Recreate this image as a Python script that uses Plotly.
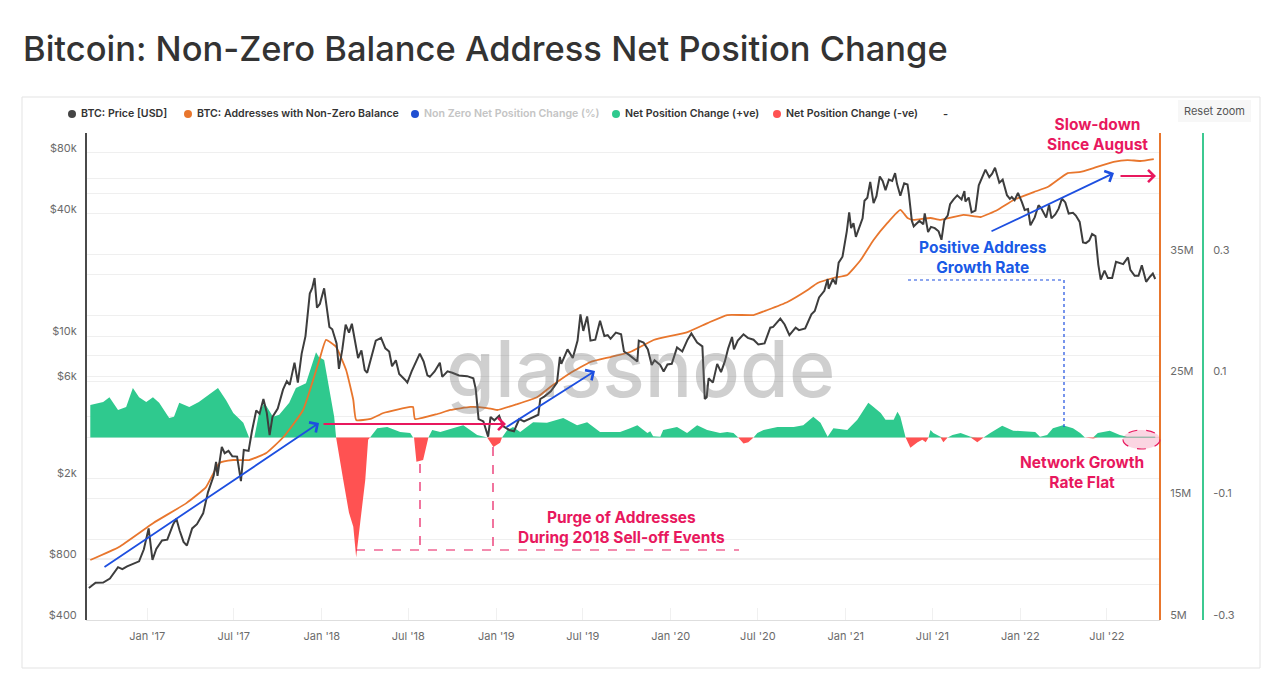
import math
import plotly.graph_objects as go

W, H = 1280, 680


def fx(p):
    return p / W


def fy(p):
    return 1 - p / H


# ---------------- data ----------------
price_dates = [
    "2016-09-01", "2016-09-15", "2016-10-01", "2016-10-15", "2016-11-01", "2016-11-10", "2016-11-20",
    "2016-12-01", "2016-12-15", "2016-12-25", "2017-01-04", "2017-01-12", "2017-01-20", "2017-02-01",
    "2017-02-12", "2017-02-24", "2017-03-03", "2017-03-10", "2017-03-18", "2017-03-25", "2017-04-05",
    "2017-04-15", "2017-04-28", "2017-05-08", "2017-05-20", "2017-05-25", "2017-05-28", "2017-06-06",
    "2017-06-12", "2017-06-20", "2017-06-28", "2017-07-08", "2017-07-16", "2017-07-22", "2017-08-01",
    "2017-08-08", "2017-08-17", "2017-08-24", "2017-09-01", "2017-09-08", "2017-09-14", "2017-09-20",
    "2017-10-01", "2017-10-12", "2017-10-20", "2017-10-26", "2017-11-05", "2017-11-12", "2017-11-20",
    "2017-11-28", "2017-12-07", "2017-12-12", "2017-12-17", "2017-12-22", "2017-12-28", "2018-01-06",
    "2018-01-12", "2018-01-17", "2018-01-23", "2018-02-01", "2018-02-06", "2018-02-13", "2018-02-20",
    "2018-02-27", "2018-03-05", "2018-03-12", "2018-03-18", "2018-03-25", "2018-04-01", "2018-04-06",
    "2018-04-15", "2018-04-24", "2018-05-05", "2018-05-14", "2018-05-22", "2018-05-28", "2018-06-05",
    "2018-06-12", "2018-06-24", "2018-06-29", "2018-07-08", "2018-07-17", "2018-07-25", "2018-08-02",
    "2018-08-10", "2018-08-15", "2018-08-25", "2018-09-05", "2018-09-10", "2018-09-21", "2018-10-01",
    "2018-10-15", "2018-11-01", "2018-11-14", "2018-11-19", "2018-11-25", "2018-12-05", "2018-12-15",
    "2018-12-20", "2018-12-28", "2019-01-07", "2019-01-15", "2019-01-28", "2019-02-07", "2019-02-18",
    "2019-02-28", "2019-03-15", "2019-03-30", "2019-04-03", "2019-04-12", "2019-04-25", "2019-05-08",
    "2019-05-14", "2019-05-17", "2019-05-30", "2019-06-10", "2019-06-20", "2019-06-26", "2019-07-02",
    "2019-07-10", "2019-07-17", "2019-07-27", "2019-08-06", "2019-08-15", "2019-08-22", "2019-08-28",
    "2019-09-08", "2019-09-19", "2019-09-25", "2019-10-05", "2019-10-23", "2019-10-26", "2019-11-05",
    "2019-11-14", "2019-11-22", "2019-11-28", "2019-12-10", "2019-12-17", "2019-12-25", "2020-01-03",
    "2020-01-14", "2020-01-25", "2020-02-05", "2020-02-13", "2020-02-25", "2020-03-07", "2020-03-12",
    "2020-03-16", "2020-03-20", "2020-03-29", "2020-04-07", "2020-04-15", "2020-04-23", "2020-04-30",
    "2020-05-08", "2020-05-12", "2020-05-20", "2020-06-01", "2020-06-10", "2020-06-22", "2020-07-02",
    "2020-07-15", "2020-07-27", "2020-08-02", "2020-08-17", "2020-08-26", "2020-09-05", "2020-09-18",
    "2020-09-25", "2020-10-08", "2020-10-21", "2020-10-28", "2020-11-06", "2020-11-17", "2020-11-24",
    "2020-11-26", "2020-12-05", "2020-12-11", "2020-12-17", "2020-12-25", "2021-01-03", "2021-01-08",
    "2021-01-12", "2021-01-17", "2021-01-22", "2021-01-29", "2021-02-05", "2021-02-09", "2021-02-15",
    "2021-02-21", "2021-02-28", "2021-03-06", "2021-03-13", "2021-03-19", "2021-03-25", "2021-04-01",
    "2021-04-08", "2021-04-14", "2021-04-18", "2021-04-25", "2021-05-03", "2021-05-10", "2021-05-13",
    "2021-05-19", "2021-05-23", "2021-05-28", "2021-06-04", "2021-06-12", "2021-06-15", "2021-06-22",
    "2021-06-28", "2021-07-06", "2021-07-14", "2021-07-20", "2021-07-26", "2021-08-02", "2021-08-07",
    "2021-08-14", "2021-08-22", "2021-08-31", "2021-09-06", "2021-09-08", "2021-09-15", "2021-09-21",
    "2021-09-29", "2021-10-06", "2021-10-15", "2021-10-20", "2021-10-28", "2021-11-03", "2021-11-09",
    "2021-11-18", "2021-11-25", "2021-12-04", "2021-12-10", "2021-12-14", "2021-12-20", "2021-12-27",
    "2022-01-04", "2022-01-10", "2022-01-17", "2022-01-22", "2022-01-31", "2022-02-08", "2022-02-14",
    "2022-02-24", "2022-03-02", "2022-03-07", "2022-03-15", "2022-03-22", "2022-03-29", "2022-04-05",
    "2022-04-12", "2022-04-21", "2022-04-27", "2022-05-05", "2022-05-12", "2022-05-18", "2022-05-25",
    "2022-05-31", "2022-06-07", "2022-06-13", "2022-06-18", "2022-06-26", "2022-07-03", "2022-07-12",
    "2022-07-20", "2022-07-27", "2022-08-04", "2022-08-14", "2022-08-19", "2022-08-28", "2022-09-05",
    "2022-09-12", "2022-09-19", "2022-09-21", "2022-09-29", "2022-10-05", "2022-10-10",
]
price_usd = [
    575, 610, 612, 640, 728, 712, 735,
    752, 778, 892, 1130, 790, 895, 985,
    995, 1180, 1260, 1100, 970, 930, 1130,
    1185, 1340, 1700, 2050, 2400, 2050, 2850,
    2650, 2720, 2560, 2550, 1930, 2750, 2720,
    3400, 4300, 4150, 4900, 4200, 3250, 4000,
    4400, 5450, 6000, 5750, 7400, 5900, 8200,
    10000, 16200, 17200, 19300, 13800, 14400, 17200,
    13400, 11100, 10800, 9200, 6900, 8600, 11400,
    10400, 11500, 9200, 7800, 8500, 6800, 6600,
    8000, 9500, 9800, 8700, 8400, 7100, 7600,
    6500, 6100, 5900, 6700, 7400, 8200, 7500,
    6400, 6300, 6700, 7400, 6300, 6700, 6600,
    6400, 6350, 6200, 5500, 3900, 3800, 3200,
    4000, 3850, 4050, 3600, 3450, 3400, 3900,
    3800, 3950, 4100, 4900, 5050, 5350, 5900,
    7900, 7300, 8600, 7800, 9500, 12800, 10600,
    12500, 9500, 9600, 11900, 10000, 10100, 9700,
    10400, 10200, 8400, 8100, 7500, 9500, 9300,
    8600, 7200, 7600, 7200, 6700, 7250, 7300,
    8800, 8400, 9600, 10300, 9300, 8900, 4900,
    5000, 6200, 5900, 7300, 6650, 7500, 8700,
    9900, 8600, 9500, 10200, 9800, 9600, 9100,
    9200, 11000, 11100, 12200, 11400, 10100, 11000,
    10700, 10900, 12800, 13300, 15500, 16700, 19100,
    17100, 19100, 18000, 23000, 24600, 32800, 40700,
    34000, 36000, 30800, 34300, 38000, 46400, 48000,
    57500, 45200, 48900, 61100, 58100, 52300, 58900,
    58000, 63500, 56200, 49100, 56600, 55800, 49700,
    37000, 34700, 35600, 36900, 35500, 40200, 32500,
    34500, 34000, 32800, 29800, 37200, 39200, 44600,
    47000, 49300, 47100, 51800, 46000, 48100, 40700,
    41500, 55300, 61500, 66000, 60600, 63000, 67500,
    56900, 58900, 49400, 47400, 48400, 46700, 50700,
    45800, 41800, 42200, 35100, 38400, 44100, 42500,
    38300, 44400, 38000, 39700, 42400, 47500, 45500,
    40100, 40500, 39200, 36500, 28900, 28700, 29500,
    31800, 31100, 22500, 19000, 21000, 19300, 19300,
    23200, 22900, 22600, 24400, 21200, 19800, 19800,
    22300, 19400, 18500, 19600, 20300, 19100,
]

addr_dates = [
    "2016-09-04", "2016-11-03", "2017-01-14", "2017-03-24", "2017-05-04", "2017-06-01", "2017-06-30",
    "2017-08-02", "2017-09-07", "2017-10-13", "2017-11-23", "2017-12-27", "2018-01-10", "2018-01-31",
    "2018-02-21", "2018-03-08", "2018-03-14", "2018-04-13", "2018-05-10", "2018-07-05", "2018-07-11",
    "2018-07-15", "2018-08-31", "2018-09-27", "2018-11-08", "2018-12-13", "2019-01-03", "2019-02-14",
    "2019-03-28", "2019-04-24", "2019-06-05", "2019-07-17", "2019-08-28", "2019-10-08", "2019-11-26",
    "2020-02-05", "2020-03-18", "2020-04-28", "2020-06-22", "2020-07-21", "2020-09-01", "2020-10-13",
    "2020-11-03", "2020-12-06", "2021-01-04", "2021-02-01", "2021-02-28", "2021-03-29", "2021-04-25",
    "2021-05-10", "2021-05-22", "2021-06-27", "2021-07-18", "2021-09-04", "2021-10-10", "2021-11-14",
    "2021-12-18", "2022-01-29", "2022-02-27", "2022-04-10", "2022-05-07", "2022-06-03", "2022-07-15",
    "2022-08-13", "2022-09-09", "2022-10-07",
]
addr_millions = [
    9.93, 11.0, 12.97, 14.6, 15.92, 17.9, 18.14,
    18.14, 18.72, 20.03, 22.25, 26.36, 28.0, 27.42,
    25.53, 23.07, 21.43, 21.51, 22.0, 22.5, 22.5,
    21.51, 21.92, 22.25, 22.5, 22.41, 22.25, 22.74,
    23.32, 24.14, 25.29, 26.19, 26.6, 27.01, 28.0,
    28.65, 29.39, 30.05, 30.05, 30.46, 31.12, 32.1,
    32.68, 33.09, 33.34, 34.57, 36.21, 37.61, 38.68,
    38.02, 37.86, 38.02, 37.86, 38.27, 38.1, 38.68,
    39.5, 40.15, 40.56, 41.71, 41.8, 42.12, 42.62,
    42.78, 42.7, 42.86,
]

net_dates = [
    "2016-09-04", "2016-10-01", "2016-10-14", "2016-11-01", "2016-11-18", "2016-12-02", "2016-12-15",
    "2016-12-30", "2017-01-13", "2017-01-26", "2017-02-16", "2017-02-26", "2017-03-09", "2017-03-30",
    "2017-04-19", "2017-05-19", "2017-05-29", "2017-06-15", "2017-06-30", "2017-07-21", "2017-08-02",
    "2017-08-13", "2017-08-23", "2017-09-03", "2017-09-21", "2017-10-04", "2017-10-25", "2017-11-08",
    "2017-11-29", "2017-12-20", "2017-12-26", "2018-01-06", "2018-01-16", "2018-01-27", "2018-01-31",
    "2018-02-15", "2018-02-27", "2018-03-08", "2018-03-14", "2018-03-23", "2018-04-02", "2018-04-08",
    "2018-04-12", "2018-04-27", "2018-05-18", "2018-06-14", "2018-07-05", "2018-07-11", "2018-07-13",
    "2018-07-18", "2018-08-01", "2018-08-12", "2018-08-20", "2018-09-06", "2018-10-11", "2018-10-24",
    "2018-11-22", "2018-12-09", "2018-12-13", "2018-12-26", "2019-01-09", "2019-01-13", "2019-01-24",
    "2019-02-05", "2019-02-20", "2019-03-19", "2019-04-17", "2019-05-21", "2019-06-19", "2019-07-10",
    "2019-08-06", "2019-09-02", "2019-09-17", "2019-10-08", "2019-10-23", "2019-11-13", "2019-11-19",
    "2019-11-25", "2019-12-10", "2019-12-16", "2020-01-14", "2020-02-04", "2020-02-25", "2020-03-17",
    "2020-04-13", "2020-04-28", "2020-05-11", "2020-05-21", "2020-06-01", "2020-06-11", "2020-06-22",
    "2020-06-30", "2020-07-13", "2020-08-11", "2020-09-14", "2020-10-04", "2020-10-25", "2020-11-09",
    "2020-11-24", "2020-12-06", "2021-01-04", "2021-01-25", "2021-02-17", "2021-02-28", "2021-03-15",
    "2021-03-25", "2021-04-11", "2021-04-19", "2021-04-25", "2021-05-06", "2021-05-16", "2021-05-31",
    "2021-06-10", "2021-06-17", "2021-06-23", "2021-06-27", "2021-07-03", "2021-07-18", "2021-07-24",
    "2021-08-02", "2021-08-12", "2021-08-29", "2021-09-19", "2021-10-03", "2021-10-16", "2021-10-30",
    "2021-11-24", "2021-12-17", "2022-01-15", "2022-02-01", "2022-02-11", "2022-02-26", "2022-03-10",
    "2022-03-31", "2022-04-21", "2022-05-06", "2022-05-16", "2022-06-02", "2022-06-12", "2022-07-07",
    "2022-07-28", "2022-08-12", "2022-08-25", "2022-10-10",
]
net_change = [
    0.053, 0.058, 0.066, 0.045, 0.050, 0.081, 0.066,
    0.058, 0.066, 0.057, 0.032, 0.034, 0.057, 0.050,
    0.058, 0.075, 0.081, 0.061, 0.040, 0.024, 0.0,
    0.0, 0.040, 0.057, 0.034, 0.037, 0.057, 0.081,
    0.089, 0.140, 0.132, 0.127, 0.083, 0.034, 0.0,
    -0.070, -0.124, -0.147, -0.197, -0.136, -0.070, -0.004,
    0.0, 0.015, 0.017, 0.009, 0.007, 0.0, 0.0,
    -0.040, -0.037, 0.0, 0.012, 0.009, 0.017, 0.020,
    0.004, 0.0, 0.0, -0.016, -0.009, 0.0, 0.012,
    0.017, 0.009, 0.025, 0.024, 0.032, 0.020, 0.025,
    0.009, 0.009, 0.009, 0.015, 0.020, 0.007, 0.010,
    0.002, 0.001, 0.012, 0.017, 0.007, 0.020, 0.012,
    0.007, 0.009, 0.007, 0.0, -0.010, -0.008, 0.0,
    0.007, 0.012, 0.017, 0.017, 0.020, 0.034, 0.024,
    0.001, 0.015, 0.012, 0.029, 0.057, 0.050, 0.040,
    0.029, 0.029, 0.042, 0.034, 0.0, -0.017, -0.008,
    -0.004, -0.008, 0.0, 0.012, 0.007, 0.001, -0.008,
    0.0, 0.004, 0.007, 0.001, -0.008, 0.0, 0.007,
    0.019, 0.011, 0.009, 0.009, 0.001, 0.004, 0.015,
    0.020, 0.015, 0.007, 0.0, -0.002, 0.007, 0.011,
    0.004, 0.001, 0.001, 0.001,
]

x_ticks = ["2017-01-01", "2017-07-01", "2018-01-01", "2018-07-01", "2019-01-01", "2019-07-01",
           "2020-01-01", "2020-07-01", "2021-01-01", "2021-07-01", "2022-01-01", "2022-07-01"]
x_tick_text = ["Jan '17", "Jul '17", "Jan '18", "Jul '18", "Jan '19", "Jul '19",
               "Jan '20", "Jul '20", "Jan '21", "Jul '21", "Jan '22", "Jul '22"]
price_ticks = [400, 800, 2000, 6000, 10000, 40000, 80000]
price_tick_text = ["$400", "$800", "$2k", "$6k", "$10k", "$40k", "$80k"]
price_grid_only = [600, 1000, 4000, 8000, 20000, 60000]
addr_ticks = [5, 15, 25, 35]
addr_tick_text = ["5M", "15M", "25M", "35M"]
addr_grid_only = [10, 20, 30, 40]
net_ticks = [-0.3, -0.1, 0.1, 0.3]
net_tick_text = ["-0.3", "-0.1", "0.1", "0.3"]

legend_items = [
    ("BTC: Price [USD]", "#444444", "#333333"),
    ("BTC: Addresses with Non-Zero Balance", "#e8762d", "#333333"),
    ("Non Zero Net Position Change (%)", "#1f4fd1", "#c4c4c4"),
    ("Net Position Change (+ve)", "#2fc98e", "#333333"),
    ("Net Position Change (-ve)", "#ff5252", "#333333"),
]

# ---------------- styles ----------------
FONT = "Inter"
GREEN = "#2fc98e"
RED = "#ff5252"
ORANGE = "#e8762d"
PRICE = "#3d3d3d"
PINK = "#e8185e"
BLUE = "#1d4fe0"
BLUE_TXT = "#1a5ae6"
GRID = "#efefef"
TICKC = "#6b6b6b"

net_pos = [v if v > 0 else 0 for v in net_change]
net_neg = [v if v < 0 else 0 for v in net_change]

fig = go.Figure()
fig.add_trace(go.Scatter(x=net_dates, y=net_pos, yaxis="y", mode="lines", fill="tozeroy",
                         fillcolor=GREEN, line=dict(width=0, color=GREEN), name="Net Position Change (+ve)"))
fig.add_trace(go.Scatter(x=net_dates, y=net_neg, yaxis="y", mode="lines", fill="tozeroy",
                         fillcolor=RED, line=dict(width=0, color=RED), name="Net Position Change (-ve)"))
fig.add_trace(go.Scatter(x=addr_dates, y=addr_millions, yaxis="y2", mode="lines",
                         line=dict(color=ORANGE, width=1.8, shape="spline", smoothing=0.4),
                         name="BTC: Addresses with Non-Zero Balance"))
fig.add_trace(go.Scatter(x=price_dates, y=price_usd, yaxis="y3", mode="lines",
                         line=dict(color=PRICE, width=2), name="BTC: Price [USD]"))

y_dom = [fy(620), fy(133)]
pgrid = sorted(price_ticks + price_grid_only)
ptext = [price_tick_text[price_ticks.index(v)] if v in price_ticks else "" for v in pgrid]
agrid = sorted(addr_ticks + addr_grid_only)
atext = [addr_tick_text[addr_ticks.index(v)] if v in addr_ticks else "" for v in agrid]

fig.update_layout(
    width=W, height=H, autosize=False,
    margin=dict(l=0, r=0, t=0, b=0, pad=0, autoexpand=False),
    paper_bgcolor="white", plot_bgcolor="white",
    showlegend=False, hovermode=False,
    font=dict(family=FONT, size=11, color=TICKC),
    xaxis=dict(
        domain=[fx(86), fx(1160)], anchor="y", type="date", automargin=False,
        range=["2016-08-26", "2022-10-20"],
        tickmode="array", tickvals=x_ticks, ticktext=x_tick_text,
        showgrid=False, zeroline=False,
        showline=True, linecolor="#dedede", linewidth=1,
        ticks="inside", ticklen=12, tickcolor="#f0f0f0",
        tickfont=dict(size=11, color=TICKC), ticklabelstandoff=6,
    ),
    yaxis=dict(
        domain=y_dom, anchor="free", position=fx(1203), side="right", automargin=False,
        range=[-0.3, 0.5], tickmode="array", tickvals=net_ticks, ticktext=net_tick_text,
        showgrid=False, zeroline=False,
        showline=True, linecolor="#3cc991", linewidth=2,
        tickfont=dict(size=11, color=TICKC), ticklabelstandoff=7, ticklabelshift=-5,
    ),
    yaxis2=dict(
        overlaying="y", anchor="free", position=fx(1160), side="right", automargin=False,
        range=[5, 45], tickmode="array", tickvals=agrid, ticktext=atext,
        showgrid=True, gridcolor=GRID, gridwidth=1, zeroline=False,
        showline=True, linecolor=ORANGE, linewidth=2,
        tickfont=dict(size=11, color=TICKC), ticklabelstandoff=7, ticklabelshift=-5,
    ),
    yaxis3=dict(
        overlaying="y", anchor="free", position=fx(86), side="left", automargin=False,
        type="log", range=[math.log10(400), 5.0],
        tickmode="array", tickvals=pgrid, ticktext=ptext,
        showgrid=True, gridcolor=GRID, gridwidth=1, zeroline=False,
        showline=True, linecolor="#4a4a4a", linewidth=2,
        tickfont=dict(size=11, color=TICKC), ticklabelstandoff=6, ticklabelshift=-5,
    ),
)

shapes = []
annotations = []

# outer frame
shapes.append(dict(type="rect", xref="paper", yref="paper", x0=fx(22), x1=fx(1260), y0=fy(668), y1=fy(97),
                   line=dict(color="#e3e3e3", width=1), fillcolor="rgba(0,0,0,0)", layer="below"))

# title
annotations.append(dict(text="Bitcoin: Non-Zero Balance Address Net Position Change", xref="paper", yref="paper",
                        x=fx(21), y=fy(49), xanchor="left", yanchor="middle", showarrow=False,
                        font=dict(family=FONT, size=34.5, color="#333333", weight=500)))

# legend
dot_x = [72, 188, 415, 616, 777]
for (label, dc, tc), dx in zip(legend_items, dot_x):
    shapes.append(dict(type="circle", xref="paper", yref="paper", x0=fx(dx - 4), x1=fx(dx + 4),
                       y0=fy(118), y1=fy(110), fillcolor=dc, line=dict(width=0)))
    annotations.append(dict(text=label, xref="paper", yref="paper", x=fx(dx + 7), y=fy(114),
                            xanchor="left", yanchor="middle", showarrow=False,
                            font=dict(family=FONT, size=10.6, color=tc, weight=600)))
annotations.append(dict(text="-", xref="paper", yref="paper", x=fx(945), y=fy(114), xanchor="center",
                        yanchor="middle", showarrow=False, font=dict(family=FONT, size=11, color="#333", weight=600)))

# reset zoom button
shapes.append(dict(type="rect", xref="paper", yref="paper", x0=fx(1178), x1=fx(1251), y0=fy(122), y1=fy(100),
                   fillcolor="#f7f7f7", line=dict(width=0)))
annotations.append(dict(text="Reset zoom", xref="paper", yref="paper", x=fx(1214.5), y=fy(111),
                        xanchor="center", yanchor="middle", showarrow=False,
                        font=dict(family=FONT, size=11, color="#555555")))

# watermark
annotations.append(dict(text="glassnode", xref="paper", yref="paper", x=fx(640), y=fy(368),
                        xanchor="center", yanchor="middle", showarrow=False,
                        font=dict(family=FONT, size=79, color="rgba(110,110,110,0.33)", weight=500)))


def arrow(tail, head, color):
    annotations.append(dict(text="", xref="paper", yref="paper", x=fx(head[0]), y=fy(head[1]),
                            axref="pixel", ayref="pixel", ax=tail[0] - head[0], ay=tail[1] - head[1],
                            showarrow=True, arrowhead=4, arrowsize=1.3, arrowwidth=1.8, arrowcolor=color,
                            standoff=0, startstandoff=0))


arrow((103, 568), (319, 423), BLUE)
arrow((322, 424), (506, 424), PINK)
arrow((505, 428), (595, 371), BLUE)
arrow((990, 232), (1114, 173), BLUE)
arrow((1119, 176), (1156, 176), PINK)


def line(p0, p1, color, dash):
    shapes.append(dict(type="line", xref="paper", yref="paper", x0=fx(p0[0]), y0=fy(p0[1]),
                       x1=fx(p1[0]), y1=fy(p1[1]), line=dict(color=color, width=1.2, dash=dash)))


line((356, 550), (739, 550), PINK, "dash")
line((420, 464), (420, 550), PINK, "dash")
line((493, 447), (493, 550), PINK, "dash")
line((908, 280), (1064, 280), BLUE, "dot")
line((1064, 280), (1064, 428), BLUE, "dot")

# ellipse
shapes.append(dict(type="circle", xref="paper", yref="paper", x0=fx(1123), x1=fx(1160), y0=fy(449), y1=fy(430),
                   fillcolor="rgba(232,24,94,0.18)", line=dict(color=PINK, width=1.2, dash="dash")))


def label(text, cx, cy, color):
    annotations.append(dict(text=text, xref="paper", yref="paper", x=fx(cx), y=fy(cy), xanchor="center",
                            yanchor="middle", showarrow=False, align="center",
                            font=dict(family=FONT, size=15.5, color=color, weight=700)))


label("Slow-down<br>Since August", 1097, 135, PINK)
label("Positive Address<br>Growth Rate", 983, 257, BLUE_TXT)
label("Network Growth<br>Rate Flat", 1082, 472, PINK)
label("Purge of Addresses<br>During 2018 Sell-off Events", 621, 527, PINK)

fig.update_layout(shapes=shapes, annotations=annotations)
fig.write_html("out.html", config={"displayModeBar": False, "responsive": False},
               post_script="document.body.style.margin='0';document.body.style.overflow='hidden';")
